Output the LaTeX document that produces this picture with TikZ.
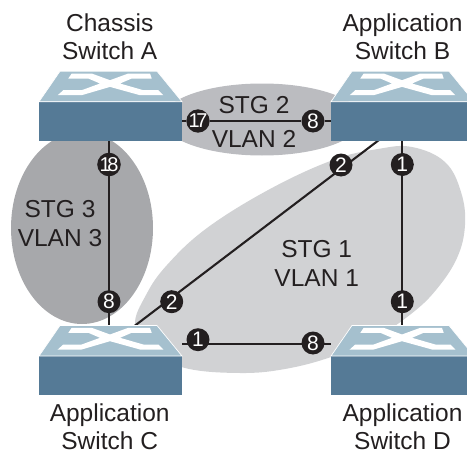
\documentclass[tikz,border=0pt]{standalone}
\usepackage{fontspec}
\setmainfont{Liberation Sans}
\pgfdeclarelayer{blobs}
\pgfdeclarelayer{links}
\pgfsetlayers{blobs,links,main}
\definecolor{swfront}{HTML}{557A96}
\definecolor{swtop}{HTML}{A5C0CE}
\definecolor{ink}{HTML}{231F20}
\definecolor{stgone}{HTML}{D1D2D4}
\definecolor{stgtwo}{HTML}{BBBCC0}
\definecolor{stgthree}{HTML}{A7A8AB}
\tikzset{
  x=1pt,y=-1pt,
  swbody/.style={fill=swfront,draw=none,minimum width=143pt,minimum height=39pt,inner sep=0pt,anchor=north west},
  swface/.style={fill=swtop,draw=white,line width=0.7pt},
  swmark/.style={fill=white,draw=none},
  badgenode/.style={circle,fill=ink,draw=none,text=white,minimum size=23pt,inner sep=0pt,font=\fontsize{21}{21}\selectfont},
  link/.style={draw=ink,line width=2.1pt},
  caption/.style={font=\fontsize{24.5}{28.5}\selectfont,align=center,text=ink,inner sep=0pt},
  zonewide/.style={font=\fontsize{24.5}{34}\selectfont,align=center,text=ink,inner sep=0pt},
  zonetight/.style={font=\fontsize{24.5}{29}\selectfont,align=center,text=ink,inner sep=0pt},
}
\newcommand{\swunit}[3]{%
  \node[swbody] (#1) at (#2,#3) {};
  \begin{scope}[shift={(#2,#3)}]
    \filldraw[swface] (0,0) -- (21,-30.5) -- (118,-30.5) -- (143,0) -- cycle;
    \fill[swmark] (29.3,-23.2) -- (32.7,-28.2) -- (52.7,-28.2) -- (71,-21.5) -- (89.3,-28.2) -- (111,-28.2) -- (112.7,-23.2) -- (92.7,-23.2) -- (81,-18.2) -- (104.3,-11.5) -- (119.3,-11.5) -- (124.3,-6.5) -- (101,-6.5) -- (71,-14.8) -- (42.7,-6.5) -- (18.7,-6.5) -- (24.3,-11.5) -- (42.7,-11.5) -- (61,-18.2) -- (49.3,-23.2) -- cycle;
  \end{scope}}
\newcommand{\tightnum}[2]{\fontsize{20}{20}\selectfont #1\kern-3.4pt #2}
\begin{document}
\begin{tikzpicture}
\useasboundingbox (0,0) rectangle (467,455);
\clip (0,0) rectangle (467,455);
\begin{pgfonlayer}{blobs}
  \fill[stgone] plot[smooth cycle,tension=0.65] coordinates {(135,325) (146,295) (167,265) (207,228) (270,189) (333,160) (378,149) (412,147) (445,162) (461,192) (465,225) (457,258) (436,290) (411,314) (375,338) (331,357) (285,369) (240,373) (185,368) (150,350)};
  \fill[stgtwo] (262,119.5) ellipse [x radius=100,y radius=36];
  \fill[stgthree] (82,228) ellipse [x radius=71,y radius=96];
\end{pgfonlayer}
\swunit{swa}{39}{101.7}
\swunit{swb}{331}{101.7}
\swunit{swc}{39}{356}
\swunit{swd}{331}{356}
\coordinate (diagtop) at (395,127.8);
\coordinate (diagbot) at (110,344.6);
\node[badgenode] (p17) at (198,121) {\tightnum{1}{7}};
\node[badgenode] (p8b) at (313,121) {8};
\node[badgenode] (p18) at (109,164.5) {\tightnum{1}{8}};
\node[badgenode] (p8c) at (109,301.7) {8};
\node[badgenode] (p2b) at (341,165) {2};
\node[badgenode] (p2c) at (171.7,301.7) {2};
\node[badgenode] (p1b) at (402.3,164.5) {1};
\node[badgenode] (p1d) at (402.3,301.7) {1};
\node[badgenode] (p1c) at (198,339.7) {1};
\node[badgenode] (p8d) at (313,343) {8};
\coordinate (toplink) at (182,121);
\begin{pgfonlayer}{links}
  \draw[link] (toplink) -- (p17) -- (p8b) -- (swb.west |- p8b);
  \draw[link] (swa.south -| p18) -- (swc.north -| p18);
  \draw[link] (diagtop) -- (diagbot);
  \draw[link] (swb.south -| p1b) -- (swd.north -| p1b);
  \draw[link] (swc.east |- 0,344.3) -- (swd.west |- 0,344.3);
\end{pgfonlayer}
\node[caption] (capa) at (109.7,36.5) {Chassis\\Switch A};
\node[caption] (capb) at (402.5,36.5) {Application\\Switch B};
\node[caption] (capc) at (109.7,426.5) {Application\\Switch C};
\node[caption] (capd) at (402.5,426.5) {Application\\Switch D};
\node[zonewide] (zone2) at (254,122) {STG 2\\VLAN 2};
\node[zonetight] (zone3) at (60,223.5) {STG 3\\VLAN 3};
\node[zonetight] (zone1) at (316.7,263) {STG 1\\VLAN 1};
\end{tikzpicture}
\end{document}
